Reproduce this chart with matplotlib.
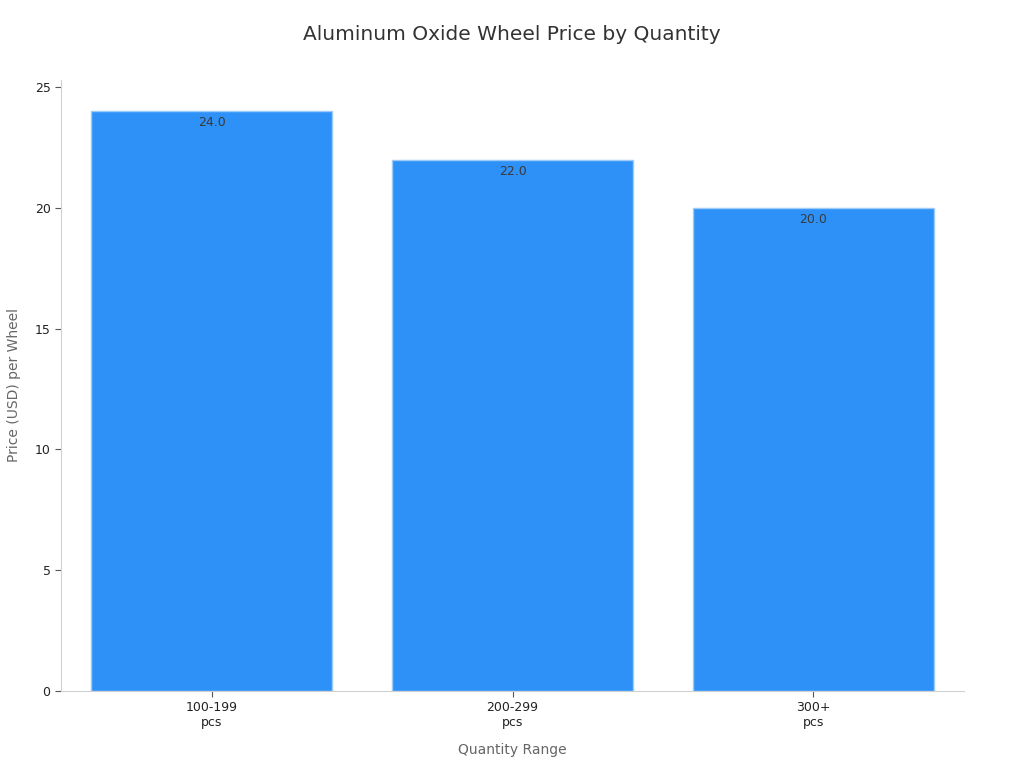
import matplotlib
matplotlib.use('Agg')
import matplotlib.pyplot as plt

categories = ['100-199\npcs', '200-299\npcs', '300+\npcs']
prices = [24.0, 22.0, 20.0]

fig = plt.figure(figsize=(10.24, 7.68), dpi=100)
ax = fig.add_axes([0.0596, 0.1003, 0.8818, 0.7955])

bars = ax.bar(range(len(categories)), prices, width=0.8, color='#2E91F8',
              edgecolor='#9CCBF9', linewidth=1)

# value labels just inside the top of each bar
for b, v in zip(bars, prices):
  ax.text(b.get_x() + b.get_width() / 2, v - 0.2, '{:.1f}'.format(v),
          ha='center', va='top', fontsize=9, color='#3a3a3a')

ax.set_xlim(-0.5, 2.5)
ax.set_ylim(0, 25.3)
ax.set_yticks([0, 5, 10, 15, 20, 25])
ax.set_xticks(range(len(categories)))
ax.set_xticklabels(categories)

for s in ['top', 'right']:
  ax.spines[s].set_visible(False)
for s in ['left', 'bottom']:
  ax.spines[s].set_color('#d0d0d0')
ax.tick_params(axis='both', colors='#555555', labelcolor='#222222', labelsize=9, length=4)

ax.set_xlabel('Quantity Range', fontsize=10, color='#666666', labelpad=10)
ax.set_ylabel('Price (USD) per Wheel', fontsize=10, color='#666666', labelpad=10)
fig.suptitle('Aluminum Oxide Wheel Price by Quantity', fontsize=14.5, color='#333333', y=0.968)

fig.savefig('out.png', dpi=100)
